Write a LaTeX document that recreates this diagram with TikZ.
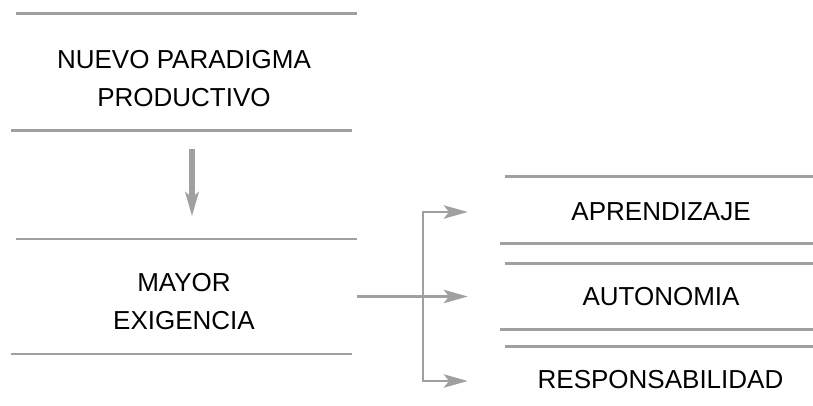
\documentclass[tikz,border=0pt]{standalone}
\usepackage{fontspec}
\setmainfont{Liberation Sans}
\usetikzlibrary{arrows.meta}
\definecolor{rulegray}{HTML}{A0A0A0}
\begin{document}
\begin{tikzpicture}[x=0.75pt,y=-0.75pt,
		box/.style={minimum width=#1*0.75pt,inner sep=0pt},
		txt/.style={align=center,inner sep=0pt,font=\fontsize{19.5}{28.5}\selectfont},
		rule/.style={draw=rulegray,line width=2pt},
		conn/.style={draw=rulegray,line width=1.9pt,-{Stealth[length=18pt,width=10pt,inset=4pt]}}]
		\useasboundingbox (0,0) rectangle (813,405);
		% left column
		\node [box=346,minimum height=87pt] (nuevo) at (184,72) {};
		\node [txt] at ([yshift=-5pt]nuevo.center) {NUEVO PARADIGMA\\PRODUCTIVO};
		\node [box=346,minimum height=86pt] (mayor) at (184,296.5) {};
		\node [txt] at ([yshift=-4pt]mayor.center) {MAYOR\\EXIGENCIA};
		% right column
		\node [box=313,minimum height=49.5pt] (aprend) at (656.5,210) {};
		\node [txt] at ([xshift=3.4pt,yshift=-1pt]aprend.center) {APRENDIZAJE};
		\node [box=313,minimum height=49pt] (auton) at (656.5,296.5) {};
		\node [txt] at ([xshift=3.4pt]auton.center) {AUTONOMIA};
		\node [box=313,minimum height=49.5pt] (respon) at (656.5,380) {};
		\node [txt] at ([xshift=3pt]respon.center) {RESPONSABILIDAD};
		% rules above and below
		\foreach \b in {nuevo,mayor} {
			\draw[rule] ([xshift=3.75pt]\b.north west) -- (\b.north east);
			\draw[rule] (\b.south west) -- ([xshift=-3.75pt]\b.south east);
		}
		\foreach \b in {aprend,auton,respon}
			\draw[rule] ([xshift=3.75pt]\b.north west) -- (\b.north east);
		\foreach \b in {aprend,auton}
			\draw[rule] (\b.south west) -- (\b.south east);
		% arrows
		\draw[rulegray,line width=4pt,-{Stealth[length=18pt,width=10pt,inset=4pt]},shorten <=14pt,shorten >=17pt]
			([xshift=6pt]nuevo.south) -- ([xshift=6pt]mayor.north);
		\coordinate (split) at (423,296.5);
		\draw[rule] (mayor.east) -- (split);
		\draw[conn,shorten >=24pt] (split) -- (auton.west);
		\draw[conn,shorten >=24pt] (split) |- ([yshift=-1.5pt]aprend.west);
		\draw[conn,shorten >=24pt] (split) |- ([yshift=-0.75pt]respon.west);
	\end{tikzpicture}
\end{document}
